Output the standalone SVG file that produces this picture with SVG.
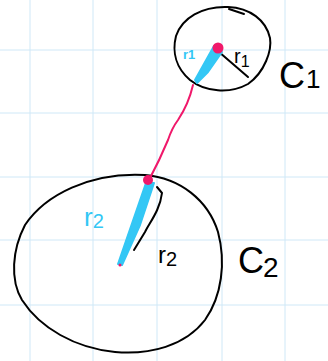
<svg xmlns="http://www.w3.org/2000/svg" width="328" height="361" viewBox="0 0 328 361">
<style>
.grid{stroke:#cfe8f7;stroke-width:1}
.ink{fill:none;stroke:#000;stroke-width:2;stroke-linecap:round;stroke-linejoin:round}
.bluefill{fill:#33c7f5;stroke:#33c7f5;stroke-width:2;stroke-linejoin:round}
.pink{fill:none;stroke:#f0186a;stroke-width:2;stroke-linecap:round;stroke-linejoin:round}
.lbl{font-family:"Liberation Sans",sans-serif;fill:#000}
.lblb{font-family:"Liberation Sans",sans-serif;fill:#33c7f5}
</style>
<rect width="328" height="361" fill="#fff"/>
<g id="grid">
<line class="grid" x1="30" y1="0" x2="30" y2="361"/>
<line class="grid" x1="93" y1="0" x2="93" y2="361"/>
<line class="grid" x1="157" y1="0" x2="157" y2="361"/>
<line class="grid" x1="222" y1="0" x2="222" y2="361"/>
<line class="grid" x1="285" y1="0" x2="285" y2="361"/>
<line class="grid" x1="0" y1="50" x2="328" y2="50"/>
<line class="grid" x1="0" y1="113" x2="328" y2="113"/>
<line class="grid" x1="0" y1="177" x2="328" y2="177"/>
<line class="grid" x1="0" y1="240" x2="328" y2="240"/>
<line class="grid" x1="0" y1="305" x2="328" y2="305"/>
</g>
<g id="C1">
<path class="ink" d="M228,7 C250,8 266,20 270,38 C272,50 265,72 248,84 C230,94 205,92 190,80 C176,68 172,52 176,36 C182,18 202,6 228,7 Z"/>
<path class="ink" stroke-width="3" d="M229,9 L244,14"/>
<path class="ink" d="M219,52 L248,77"/>
<polygon class="bluefill" points="214,46 222,52 208,72 197,83 195,80"/>
<circle cx="218" cy="48" r="5.5" fill="#f0186a"/>
<text class="lbl" x="234" y="63" font-size="20">r<tspan font-size="16" dy="4">1</tspan></text>
<text class="lbl" x="279" y="88" font-size="36">C<tspan font-size="26" dx="1">1</tspan></text>
<text class="lblb" x="183" y="59" font-size="13" font-weight="bold">r1</text>
</g>
<g id="C2">
<path class="ink" d="M145,175 C180,178 208,200 218,232 C226,262 222,296 205,320 C185,346 150,355 115,352 C75,348 40,328 22,300 C10,280 12,250 25,225 C45,195 90,172 145,175 Z"/>
<path class="ink" d="M157,187 L162,193 C160,210 150,222 145,232 L134,250"/>
<polygon class="bluefill" points="146,183 154,183 140,225 122,265 118,264"/>
<circle cx="148" cy="180" r="5" fill="#f0186a"/>
<circle cx="120" cy="265" r="1.5" fill="#f0186a"/>
<text class="lbl" x="158" y="263" font-size="24">r<tspan font-size="20" dy="3">2</tspan></text>
<text class="lbl" x="238" y="273" font-size="36">C<tspan font-size="28" dy="4" dx="-1">2</tspan></text>
<text class="lblb" x="84" y="226" font-size="26">r<tspan font-size="20" dy="2">2</tspan></text>
</g>
<g id="connectors">
<path class="pink" d="M193,85 C190,98 186,108 178,120 C172,128 170,134 168,140 C163,152 157,165 149,180"/>
</g>
</svg>
